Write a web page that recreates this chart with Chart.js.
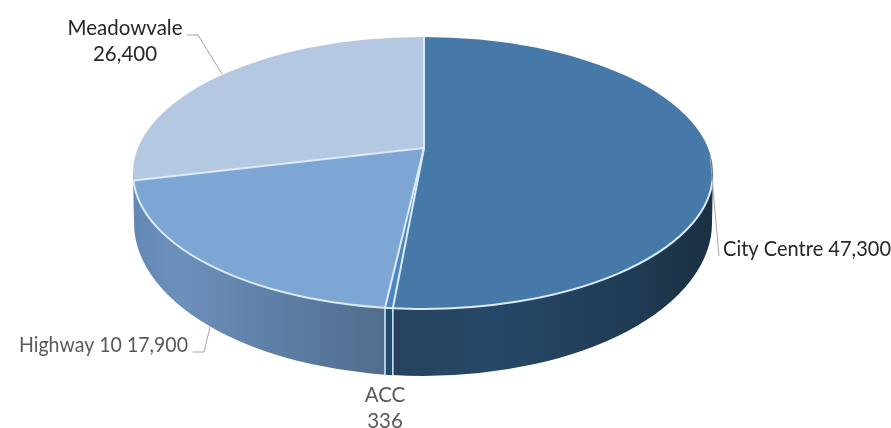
<!DOCTYPE html>
<html>
<head>
<meta charset="utf-8">
<script src="https://cdn.jsdelivr.net/npm/chart.js@4"></script>
<style>
html,body{margin:0;padding:0;background:#fff;overflow:hidden}
canvas{display:block}
</style>
</head>
<body>
<canvas id="pie3d" width="891" height="428"></canvas>
<script>
var categories = ['City Centre', 'ACC', 'Highway 10', 'Meadowvale'];
var values = [47300, 336, 17900, 26400];
var topColors = ['#4678a8', '#4d85bd', '#7da6d4', '#b4c8e2'];

// the top face is an ellipse, the slices meet off its centre (perspective)
var face = {cx: 423, cy: 173, rx: 290, ry: 136};
var base = {cx: 423, cy: 223, rx: 289, ry: 153};
var vertex = {x: 424, y: 148};
var stretch = {x: 426, y: 200};
var edgeColor = '#dcebf8';

function money(v){ return v.toLocaleString('en-US'); }

var labels = [
  {lines: [categories[0] + ' ' + money(values[0])], x: 723, y: 249, align: 'left', color: '#262626', fit: 168},
  {lines: [categories[1], money(values[1])], x: 385, y: 395, align: 'center', color: '#595959'},
  {lines: [categories[2] + ' ' + money(values[2])], x: 19, y: 345, align: 'left', color: '#595959', fit: 169},
  {lines: [categories[3], money(values[3])], x: 125, y: 28, align: 'center', color: '#262626'}
];
var leaders = [
  [[719, 256], [710, 155]],
  [[193, 352], [204, 352], [210, 327]],
  [[187, 35], [198, 35], [222, 74]]
];

function rimPoint(angle){
  var dx = stretch.x * Math.cos(angle), dy = stretch.y * Math.sin(angle);
  var ox = (vertex.x - face.cx) / face.rx, oy = (vertex.y - face.cy) / face.ry;
  var ux = dx / face.rx, uy = dy / face.ry;
  var a = ux * ux + uy * uy, b = 2 * (ox * ux + oy * uy), c = ox * ox + oy * oy - 1;
  var t = (-b + Math.sqrt(b * b - 4 * a * c)) / (2 * a);
  return {x: vertex.x + t * dx, y: vertex.y + t * dy};
}

function wallPath(ctx){
  ctx.beginPath();
  ctx.moveTo(face.cx + face.rx, face.cy);
  ctx.ellipse(base.cx, base.cy, base.rx, base.ry, 0, 0, Math.PI);
  ctx.lineTo(face.cx - face.rx, face.cy);
  ctx.closePath();
}

function wallBand(ctx, x0, x1, stops){
  var g = ctx.createLinearGradient(x0, 0, x1, 0);
  stops.forEach(function(s){ g.addColorStop(s[0], s[1]); });
  ctx.save();
  ctx.beginPath();
  ctx.rect(x0, 0, x1 - x0, 428);
  ctx.clip();
  wallPath(ctx);
  ctx.fillStyle = g;
  ctx.fill();
  ctx.restore();
}

var pie3d = {
  id: 'pie3d',
  beforeDatasetsDraw: function(chart){
    var ctx = chart.ctx, arcs = chart.getDatasetMeta(0).data;
    var a = rimPoint(arcs[1].startAngle), b = rimPoint(arcs[1].endAngle);
    // side wall, one band per slice
    wallBand(ctx, 120, b.x, [[0, '#5f86b4'], [0.22, '#6d90bb'], [0.6, '#5d7ea5'], [1, '#526d8c']]);
    wallBand(ctx, b.x, a.x, [[0, '#1f4a72'], [1, '#1f4a72']]);
    wallBand(ctx, a.x, 730, [[0, '#26425e'], [0.3, '#264868'], [0.75, '#1f3a52'], [1, '#1a2d3e']]);
    ctx.strokeStyle = edgeColor;
    ctx.lineWidth = 1.5;
    [a, b].forEach(function(p){
      ctx.beginPath();
      ctx.moveTo(p.x, p.y);
      ctx.lineTo(p.x, 376);
      ctx.stroke();
    });
    // top face: the library's arcs, stretched and cut to the ellipse
    var arc = arcs[0];
    ctx.save();
    ctx.beginPath();
    ctx.ellipse(face.cx, face.cy, face.rx, face.ry, 0, 0, Math.PI * 2);
    ctx.clip();
    ctx.translate(vertex.x, vertex.y);
    ctx.scale(stretch.x / arc.outerRadius, stretch.y / arc.outerRadius);
    ctx.translate(-arc.x, -arc.y);
  },
  afterDatasetsDraw: function(chart){
    var ctx = chart.ctx, arcs = chart.getDatasetMeta(0).data;
    ctx.restore();
    ctx.strokeStyle = edgeColor;
    ctx.lineWidth = 2;
    arcs.forEach(function(arc){
      var p = rimPoint(arc.startAngle);
      ctx.beginPath();
      ctx.moveTo(vertex.x, vertex.y);
      ctx.lineTo(p.x, p.y);
      ctx.stroke();
    });
    // only the front rim catches the light
    ctx.beginPath();
    ctx.ellipse(face.cx, face.cy, face.rx, face.ry, 0, 0.05, Math.PI - 0.05);
    ctx.stroke();

    ctx.strokeStyle = '#a6a6a6';
    ctx.lineWidth = 1;
    leaders.forEach(function(pts){
      ctx.beginPath();
      pts.forEach(function(p, i){
        if (i == 0) ctx.moveTo(p[0], p[1]); else ctx.lineTo(p[0], p[1]);
      });
      ctx.stroke();
    });

    ctx.font = '20.5px Lato';
    ctx.textBaseline = 'middle';
    labels.forEach(function(l){
      ctx.fillStyle = l.color;
      ctx.textAlign = l.align;
      l.lines.forEach(function(line, i){
        if (l.fit) ctx.fillText(line, l.x, l.y + i * 26, l.fit);
        else ctx.fillText(line, l.x, l.y + 0.5 + i * 26);
      });
    });
  }
};

new Chart(document.getElementById('pie3d').getContext('2d'), {
  type: 'pie',
  data: {
    labels: categories,
    datasets: [{
      data: values,
      backgroundColor: topColors,
      borderWidth: 0,
      clip: false
    }]
  },
  options: {
    responsive: false,
    animation: false,
    plugins: {legend: {display: false}, tooltip: {enabled: false}}
  },
  plugins: [pie3d]
});
</script>
</body>
</html>
